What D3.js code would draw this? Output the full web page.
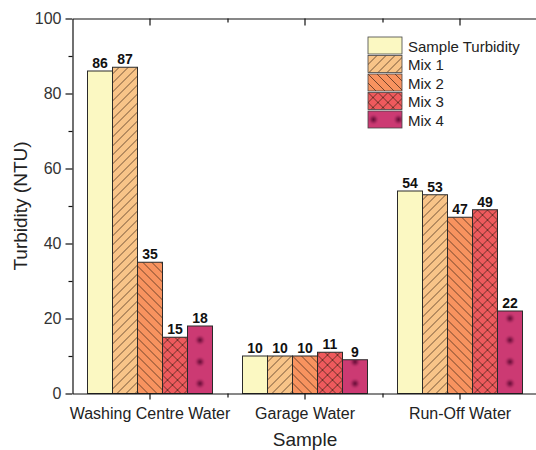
<!DOCTYPE html>
<html>
<head>
<meta charset="utf-8">
<script src="https://cdn.jsdelivr.net/npm/d3@7"></script>
<style>
  body { margin: 0; background: #fff; }
  text { font-family: "Liberation Sans", Arial, sans-serif; }
</style>
</head>
<body>
<div id="chart"></div>
<script>
const samples = ["Washing Centre Water", "Garage Water", "Run-Off Water"];
const series = ["Sample Turbidity", "Mix 1", "Mix 2", "Mix 3", "Mix 4"];
const sampleTurbidity = [86, 10, 54];
const mix1 = [87, 10, 53];
const mix2 = [35, 10, 47];
const mix3 = [15, 11, 49];
const mix4 = [18, 9, 22];
const yTicks = [0, 20, 40, 60, 80, 100];
const yMinor = [10, 30, 50, 70, 90];

const colores = ["#fbf8c2", "#f8c488", "#f8935f", "#ee5a5d", "#cc3a73"];
const rellenos = ["none", "hatchA", "hatchB", "cross", "dots"];

const valores = [sampleTurbidity, mix1, mix2, mix3, mix4];
const datos = samples.map((s, i) => ({
    sample: s,
    vals: series.map((k, j) => ({key: k, j: j, value: valores[j][i]}))
}));

const W = 536, H = 450;
const margin = {left: 72.5, right: -1.5, top: 18.5, bottom: 56.5};

const svg = d3.select("#chart").append("svg")
    .attr("width", W).attr("height", H);

const x0 = d3.scaleBand()
    .domain(samples)
    .range([margin.left, W - margin.right])
    .paddingInner(30 / 155)
    .paddingOuter(15 / 155);

const x1 = d3.scaleBand()
    .domain(series)
    .range([0, x0.bandwidth()]);

const y = d3.scaleLinear([0, 100], [H - margin.bottom, margin.top]);

// patrones
const defs = svg.append("defs");
const linea = "#3a2214";

function hatch(id, color, size, paths) {
    let p = defs.append("pattern")
        .attr("id", id)
        .attr("patternUnits", "userSpaceOnUse")
        .attr("width", size).attr("height", size);
    p.append("rect").attr("width", size).attr("height", size).attr("fill", color);
    paths.forEach(d => p.append("path").attr("d", d)
        .attr("stroke", linea).attr("stroke-width", 0.7).attr("fill", "none"));
}
let s = 9;
hatch("hatchA", colores[1], s, [`M0,${s} L${s},0`, `M${-s/2},${s/2} L${s/2},${-s/2}`, `M${s/2},${s*1.5} L${s*1.5},${s/2}`]);
hatch("hatchB", colores[2], s, [`M0,0 L${s},${s}`, `M${-s/2},${s/2} L${s/2},${s*1.5}`, `M${s/2},${-s/2} L${s*1.5},${s/2}`]);
let c = 10;
hatch("cross", colores[3], c, [`M0,${c} L${c},0`, `M0,0 L${c},${c}`]);

const grad = defs.append("radialGradient").attr("id", "dotgrad");
grad.append("stop").attr("offset", "0%").attr("stop-color", "#5e0a33").attr("stop-opacity", 1);
grad.append("stop").attr("offset", "40%").attr("stop-color", "#871a4a").attr("stop-opacity", 0.75);
grad.append("stop").attr("offset", "100%").attr("stop-color", colores[4]).attr("stop-opacity", 0);

function dots(id, px, py, w, h) {
    let p = defs.append("pattern")
        .attr("id", id)
        .attr("patternUnits", "userSpaceOnUse")
        .attr("x", px).attr("y", py)
        .attr("width", w).attr("height", h);
    p.append("rect").attr("width", w).attr("height", h).attr("fill", colores[4]);
    p.append("circle").attr("cx", w / 2).attr("cy", h / 2).attr("r", 6).attr("fill", "url(#dotgrad)");
}
const dotH = 21.7;
// coordenadas locales del grupo: el punto cae en el centro de la barra Mix 4
const cx4 = x1("Mix 4") + x1.bandwidth() / 2;
dots("dots", cx4 - x0.step() / 2, y(0) - 10 - dotH / 2, x0.step(), dotH);
// version para la leyenda (coordenadas locales de cada fila)
dots("dotsLeg", 5.5 - 12.5, 8.5 - dotH / 2, 25, dotH);

// barras
const grupos = svg.selectAll(".grupo")
    .data(datos)
    .join("g")
    .attr("class", "grupo")
    .attr("transform", d => `translate(${x0(d.sample)},0)`);

grupos.selectAll("rect")
    .data(d => d.vals)
    .join("rect")
    .attr("x", d => x1(d.key))
    .attr("y", d => y(d.value))
    .attr("width", x1.bandwidth())
    .attr("height", d => y(0) - y(d.value))
    .attr("fill", d => rellenos[d.j] === "none" ? colores[d.j] : `url(#${rellenos[d.j]})`)
    .attr("stroke", "#2a2a2a")
    .attr("stroke-width", 1);

grupos.selectAll(".etq")
    .data(d => d.vals)
    .join("text")
    .attr("class", "etq")
    .attr("x", d => x1(d.key) + x1.bandwidth() / 2)
    .attr("y", d => y(d.value) - 3)
    .attr("text-anchor", "middle")
    .attr("font-size", 14)
    .attr("font-weight", "bold")
    .attr("fill", "#111")
    .text(d => d.value);

// ejes
const x0c = samples.map(d => x0(d) + x0.bandwidth() / 2);
const bounds = samples.slice(1).map(d => x0(d) - x0.step() * (30 / 155) / 2);

const gy = svg.append("g")
    .attr("transform", `translate(${margin.left},0)`)
    .call(d3.axisLeft(y).tickValues(yTicks).tickSize(7).tickPadding(4).tickSizeOuter(0));
gy.selectAll("text").attr("font-size", 16).attr("fill", "#333").attr("font-family", "Liberation Sans, Arial, sans-serif");

svg.append("g")
    .attr("transform", `translate(${margin.left},0)`)
    .call(d3.axisLeft(y).tickValues(yMinor).tickSize(4).tickFormat("").tickSizeOuter(0))
    .select(".domain").remove();

const gr = svg.append("g")
    .attr("transform", `translate(${W - margin.right},0)`);
gr.call(d3.axisLeft(y).tickValues(yTicks).tickSize(-7).tickFormat("").tickSizeOuter(0));
gr.append("g").call(d3.axisLeft(y).tickValues(yMinor).tickSize(-4).tickFormat("").tickSizeOuter(0))
    .select(".domain").remove();

const gx = svg.append("g")
    .attr("transform", `translate(0,${y(0)})`)
    .call(d3.axisBottom(x0).tickSize(6).tickPadding(8).tickSizeOuter(0));
gx.selectAll("text").attr("font-size", 16).attr("fill", "#222").attr("font-family", "Liberation Sans, Arial, sans-serif");

const xm = d3.scaleIdentity();
svg.append("g")
    .attr("transform", `translate(0,${y(0)})`)
    .call(d3.axisBottom(xm).tickValues(bounds).tickSize(4).tickFormat(""))
    .select(".domain").remove();

const gt = svg.append("g")
    .attr("transform", `translate(0,${y(100)})`);
gt.call(d3.axisTop(x0).tickSize(-7).tickFormat("").tickSizeOuter(0));
gt.append("g").call(d3.axisTop(xm).tickValues(bounds).tickSize(-4).tickFormat(""))
    .select(".domain").remove();

svg.selectAll(".domain").attr("stroke", "#111").attr("stroke-width", 1.2);
svg.selectAll(".tick line").attr("stroke", "#111").attr("stroke-width", 1.2);

// titulos
svg.append("text")
    .attr("x", x0c[1])
    .attr("y", 446)
    .attr("text-anchor", "middle")
    .attr("font-size", 19)
    .attr("fill", "#222")
    .text("Sample");

svg.append("text")
    .attr("transform", `translate(27,${(y(0) + y(100)) / 2}) rotate(-90)`)
    .attr("text-anchor", "middle")
    .attr("font-size", 19)
    .attr("fill", "#222")
    .text("Turbidity (NTU)");

// leyenda
const legRellenos = ["none", "hatchA", "hatchB", "cross", "dotsLeg"];
const ley = svg.append("g").attr("class", "leyenda");
const filas = ley.selectAll("g")
    .data(series)
    .join("g")
    .attr("transform", (d, i) => `translate(368,${37 + i * 18.5})`);

filas.append("rect")
    .attr("width", 34)
    .attr("height", 17)
    .attr("fill", (d, i) => legRellenos[i] === "none" ? colores[i] : `url(#${legRellenos[i]})`)
    .attr("stroke", "#444")
    .attr("stroke-width", 0.8);

filas.append("text")
    .attr("x", 40)
    .attr("y", 14.5)
    .attr("font-size", 15)
    .attr("fill", "#222")
    .text(d => d);
</script>
</body>
</html>
